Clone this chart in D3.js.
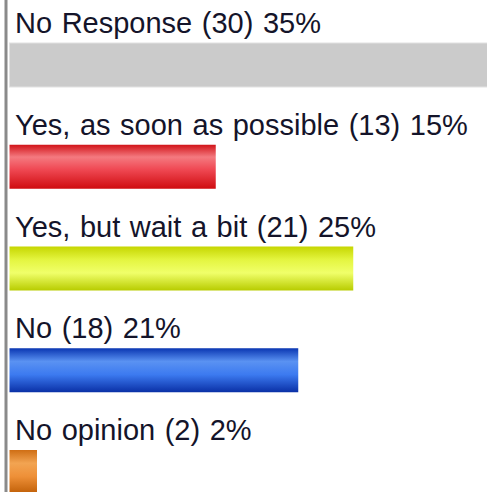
<!DOCTYPE html>
<html>
<head>
<meta charset="utf-8">
<script src="https://cdn.jsdelivr.net/npm/d3@7"></script>
<style>
  html, body { margin: 0; padding: 0; background: #fff; overflow: hidden; }
  svg { display: block; }
</style>
</head>
<body>
<svg id="chart" width="487" height="492"></svg>
<script>
// Poll answers: label, vote count, share of votes (%)
const answers = ["No Response", "Yes, as soon as possible", "Yes, but wait a bit", "No", "No opinion"];
const votes = [30, 13, 21, 18, 2];
const percents = [35, 15, 25, 21, 2];

// Bar fill stops (top to bottom) for each answer
const barStops = [
  [["0%", "#cbcbcb"], ["100%", "#cbcbcb"]],
  [["0%", "#d11419"], ["28%", "#f47a80"], ["55%", "#f04a55"], ["100%", "#cf0c10"]],
  [["0%", "#c6d600"], ["30%", "#e4f540"], ["60%", "#f0ff6a"], ["100%", "#b8cc00"]],
  [["0%", "#0a36b2"], ["30%", "#5a92f2"], ["60%", "#3c7af0"], ["100%", "#0a30a6"]],
  [["0%", "#cf6e14"], ["30%", "#f2a452"], ["60%", "#ee9038"], ["100%", "#bf5e06"]]
];

const W = 487, H = 492;
const svg = d3.select("#chart");

const defs = svg.append("defs");
barStops.forEach((stops, i) => {
  const g = defs.append("linearGradient")
    .attr("id", "bar-grad-" + i)
    .attr("x1", 0).attr("y1", 0).attr("x2", 0).attr("y2", 1);
  stops.forEach(([off, col]) => g.append("stop").attr("offset", off).attr("stop-color", col));
});

// Horizontal value scale: percent of votes
const x = d3.scaleLinear().domain([0, 100]).range([9.5, 1384.5]);

// One row per answer: label above, bar below
const y = d3.scaleBand().domain(answers).range([0, 508.75]).paddingInner(0).paddingOuter(0);

const rows = svg.selectAll("g.row")
  .data(answers.map((a, i) => ({ label: a, votes: votes[i], pct: percents[i], i })))
  .join("g")
  .attr("class", "row")
  .attr("transform", d => `translate(0,${y(d.label)})`);

rows.append("rect")
  .attr("x", x(0))
  .attr("y", 43)
  .attr("width", d => x(d.pct) - x(0))
  .attr("height", 44)
  .attr("fill", d => `url(#bar-grad-${d.i})`);

// thin highlight edges on the grey bar
rows.filter(d => d.i === 0).append("rect")
  .attr("x", x(0)).attr("y", 43)
  .attr("width", d => x(d.pct) - x(0)).attr("height", 44)
  .attr("fill", "none").attr("stroke", "#e2e2e2").attr("stroke-width", 1);

rows.append("text")
  .attr("x", 15)
  .attr("y", 33)
  .attr("font-family", "'Liberation Sans', Arial, sans-serif")
  .attr("font-size", 29)
  .attr("word-spacing", 1.5)
  .attr("fill", "#14142a")
  .text(d => `${d.label} (${d.votes}) ${d.pct}%`);

// Left baseline
svg.append("line")
  .attr("x1", 6).attr("x2", 6)
  .attr("y1", 0).attr("y2", H)
  .attr("stroke", "#8a8a8a")
  .attr("stroke-width", 3);
</script>
</body>
</html>
